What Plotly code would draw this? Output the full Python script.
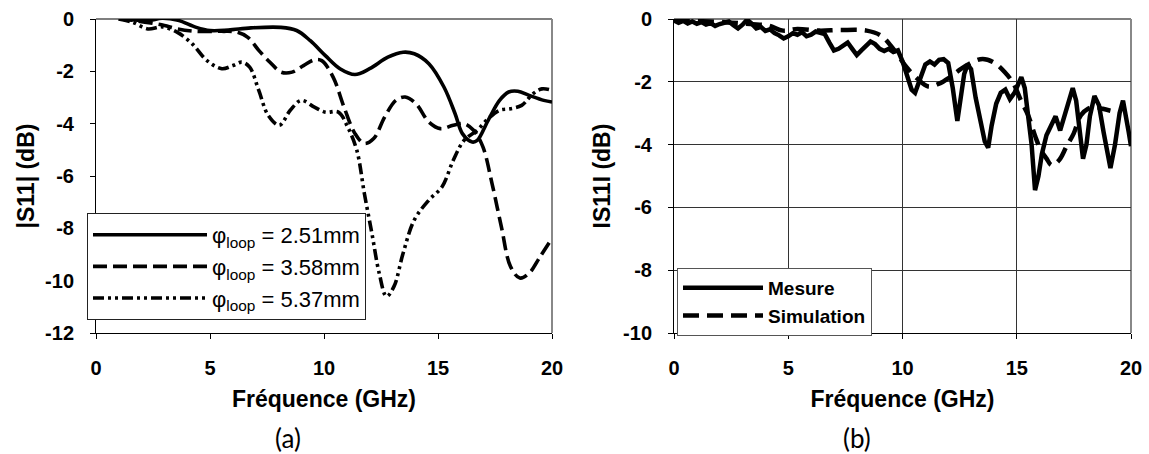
import plotly.graph_objects as go

# ---------------- data: panel (a) ----------------
a_solid_x = [1.0, 1.6, 2.3, 2.9, 3.6, 4.4, 5.0, 5.8, 6.8, 8.1, 8.8, 9.4, 10.06, 10.7, 11.36, 12.0, 12.8, 13.47,
             13.96, 14.6, 15.26, 15.75, 16.07, 16.5, 16.72, 17.2, 17.7, 18.1, 18.5, 19.0, 19.64, 20.0]
a_solid_y = [0.0, -0.03, -0.06, 0.03, -0.05, -0.32, -0.44, -0.42, -0.34, -0.32, -0.44, -0.83, -1.4, -1.9, -2.12,
             -1.9, -1.46, -1.27, -1.33, -1.71, -2.6, -3.62, -4.38, -4.7, -4.64, -3.87, -3.11, -2.79, -2.76, -2.92,
             -3.11, -3.17]

a_dash_x = [1.0, 1.6, 2.4, 3.0, 3.57, 4.38, 5.5, 6.17, 6.66, 7.14, 7.63, 8.12, 8.6, 9.1, 9.58, 9.9, 10.4, 10.88,
            11.36, 11.77, 12.18, 12.66, 13.15, 13.56, 14.04, 14.6, 15.1, 15.67, 16.15, 16.56, 16.97, 17.37, 17.78,
            18.18, 18.59, 19.0, 19.48, 20.0]
a_dash_y = [0.0, -0.05, -0.15, -0.25, -0.38, -0.47, -0.47, -0.5, -0.7, -1.2, -1.65, -2.03, -2.03, -1.78, -1.56,
            -1.59, -2.22, -3.37, -4.38, -4.76, -4.57, -3.75, -3.11, -2.98, -3.24, -3.94, -4.19, -4.06, -4.0, -4.25,
            -4.89, -6.29, -7.94, -9.46, -9.9, -9.71, -9.08, -8.38]

a_dd_x = [1.0, 1.62, 2.27, 2.9, 3.57, 4.22, 4.87, 5.52, 6.0, 6.4, 6.74, 7.14, 7.55, 8.04, 8.52, 9.0, 9.58, 10.06,
          10.63, 11.04, 11.44, 11.77, 12.1, 12.42, 12.74, 13.07, 13.47, 13.96, 14.6, 15.18, 15.67, 16.15, 16.72,
          17.2, 17.7, 18.18, 18.67, 19.16, 19.56, 20.0]
a_dd_y = [0.0, -0.13, -0.38, -0.3, -0.51, -0.95, -1.59, -1.9, -1.78, -1.65, -1.84, -2.73, -3.68, -4.06, -3.49,
          -3.11, -3.37, -3.56, -3.56, -4.13, -5.02, -6.67, -8.19, -9.71, -10.6, -10.22, -8.95, -7.68, -6.92, -6.41,
          -5.4, -4.63, -4.25, -3.81, -3.49, -3.43, -3.3, -2.86, -2.67, -2.73]

a_names = ["φ<sub>loop</sub> = 2.51mm", "φ<sub>loop</sub> = 3.58mm", "φ<sub>loop</sub> = 5.37mm"]

# ---------------- data: panel (b) ----------------
b_mes_x = [0.0, 0.2, 0.4, 0.6, 0.8, 1.0, 1.2, 1.4, 1.6, 1.8, 2.0, 2.2, 2.4, 2.6, 2.8, 3.0, 3.2, 3.4, 3.6, 3.8,
           4.0, 4.2, 4.4, 4.6, 4.8, 5.0, 5.2, 5.4, 5.6, 5.8, 6.0, 6.2, 6.4, 6.6, 6.8, 7.0, 7.2, 7.4, 7.6, 7.8,
           8.0, 8.2, 8.4, 8.6, 8.8, 9.0, 9.2, 9.4, 9.6, 9.8, 10.0, 10.2, 10.4, 10.55, 10.7, 10.85, 11.0, 11.2,
           11.4, 11.6, 11.8, 12.0, 12.2, 12.4, 12.55, 12.7, 12.85, 13.0, 13.2, 13.4, 13.6, 13.75, 13.9, 14.1,
           14.3, 14.5, 14.7, 14.9, 15.1, 15.2, 15.35, 15.5, 15.65, 15.8, 15.95, 16.1, 16.3, 16.5, 16.7, 16.9,
           17.1, 17.3, 17.45, 17.6, 17.75, 17.9, 18.05, 18.2, 18.4, 18.6, 18.8, 19.0, 19.1, 19.3, 19.5, 19.65,
           19.8, 19.9, 20.0]
b_mes_y = [-0.05, -0.12, -0.06, -0.14, -0.08, -0.15, -0.1, -0.18, -0.13, -0.22, -0.16, -0.12, -0.08, -0.2, -0.3,
           -0.18, -0.02, -0.15, -0.3, -0.25, -0.38, -0.33, -0.45, -0.52, -0.62, -0.55, -0.45, -0.5, -0.42, -0.55,
           -0.5, -0.4, -0.45, -0.48, -0.75, -1.0, -0.95, -0.85, -0.75, -0.95, -1.15, -1.0, -0.88, -0.72, -0.8,
           -0.95, -1.02, -0.95, -1.05, -1.0, -1.35, -1.85, -2.25, -2.35, -2.05, -1.7, -1.45, -1.35, -1.45, -1.3,
           -1.28, -1.4, -2.2, -3.25, -2.5, -1.75, -1.45, -1.6, -2.5, -3.3, -3.9, -4.1, -3.4, -2.7, -2.35, -2.25,
           -2.55, -2.35, -2.0, -1.85, -2.2, -3.0, -4.0, -5.45, -5.0, -4.3, -3.7, -3.4, -3.1, -3.55, -3.05, -2.5,
           -2.2, -2.6, -3.6, -4.45, -4.0, -3.1, -2.45, -2.75, -3.6, -4.5, -4.75, -4.0, -3.0, -2.6, -3.1, -3.6,
           -4.05]

b_sim_x = [0.0, 0.64, 2.23, 3.34, 4.13, 4.77, 5.4, 6.36, 7.31, 8.43, 9.06, 9.54, 9.86, 10.17, 10.65, 11.13,
           11.6, 12.08, 12.56, 13.04, 13.51, 13.99, 14.47, 14.86, 15.18, 15.5, 15.82, 16.06, 16.3, 16.53, 16.85,
           17.17, 17.49, 17.8, 18.12, 18.44, 18.76, 19.1]
b_sim_y = [0.0, -0.05, -0.1, -0.16, -0.21, -0.37, -0.32, -0.37, -0.35, -0.37, -0.53, -0.9, -1.22, -1.53, -1.9,
           -2.15, -2.06, -1.85, -1.59, -1.38, -1.27, -1.38, -1.69, -2.06, -2.59, -3.07, -3.76, -4.18, -4.44, -4.66,
           -4.5, -4.07, -3.65, -3.07, -2.86, -2.8, -2.86, -2.92]

b_names = ["Mesure", "Simulation"]

# ---------------- ticks / labels ----------------
x_tickvals = [0, 5, 10, 15, 20]
x_ticktext = ["0", "5", "10", "15", "20"]
a_y_tickvals = [0, -2, -4, -6, -8, -10, -12]
a_y_ticktext = ["0", "-2", "-4", "-6", "-8", "-10", "-12"]
b_y_tickvals = [0, -2, -4, -6, -8, -10]
b_y_ticktext = ["0", "-2", "-4", "-6", "-8", "-10"]
x_title = "Fréquence (GHz)"
a_y_title = "|S11| (dB)"
b_y_title = "IS11I (dB)"
panel_labels = ["(a)", "(b)"]

# ---------------- layout geometry ----------------
W, H = 1149, 454
def px_x(p): return p / W
def px_y(p): return 1 - p / H

FONT = "Liberation Sans"
tickfont = dict(family=FONT, size=20, color="black", weight="bold")
titlefont = dict(family=FONT, size=23, color="black", weight="bold")

fig = go.Figure()

fig.add_trace(go.Scatter(x=a_solid_x, y=a_solid_y, name=a_names[0], mode="lines", line_shape="spline",
                         line=dict(color="black", width=3.6), xaxis="x", yaxis="y", legend="legend"))
fig.add_trace(go.Scatter(x=a_dash_x, y=a_dash_y, name=a_names[1], mode="lines", line_shape="spline",
                         line=dict(color="black", width=3.6, dash="14px,6px"), xaxis="x", yaxis="y",
                         legend="legend"))
fig.add_trace(go.Scatter(x=a_dd_x, y=a_dd_y, name=a_names[2], mode="lines", line_shape="spline",
                         line=dict(color="black", width=3.6, dash="11px,4px,3px,4px,3px,4px"), xaxis="x",
                         yaxis="y", legend="legend"))

fig.add_trace(go.Scatter(x=b_mes_x, y=b_mes_y, name=b_names[0], mode="lines",
                         line=dict(color="black", width=4.5), xaxis="x2", yaxis="y2", legend="legend2"))
fig.add_trace(go.Scatter(x=b_sim_x, y=b_sim_y, name=b_names[1], mode="lines", line_shape="spline",
                         line=dict(color="black", width=4.5, dash="16px,8px"), xaxis="x2", yaxis="y2",
                         legend="legend2"))

axis_common = dict(showline=True, linecolor="black", linewidth=1, ticks="outside", ticklen=5,
                   tickcolor="black", tickwidth=1, tickfont=tickfont, zeroline=False, fixedrange=True,
                   automargin=False)

fig.update_layout(
    template="none",
    width=W, height=H, autosize=False,
    margin=dict(l=0, r=0, t=0, b=0),
    paper_bgcolor="white", plot_bgcolor="white",
    xaxis=dict(domain=[px_x(96), px_x(552)], range=[0, 20], anchor="y", tickvals=x_tickvals,
               ticktext=x_ticktext, showgrid=False, ticklabelstandoff=12,
               title=dict(text=x_title, font=titlefont, standoff=12), **axis_common),
    yaxis=dict(domain=[px_y(333), px_y(19)], range=[-12, 0], anchor="x", tickvals=a_y_tickvals,
               ticktext=a_y_ticktext, showgrid=False, ticklabelstandoff=12,
               title=dict(text=a_y_title, font=titlefont, standoff=4), **axis_common),
    xaxis2=dict(domain=[px_x(674), px_x(1131)], range=[0, 20], anchor="y2", tickvals=x_tickvals,
                ticktext=x_ticktext, showgrid=True, gridcolor="#333333", gridwidth=1, ticklabelstandoff=12,
                title=dict(text=x_title, font=titlefont, standoff=12), **axis_common),
    yaxis2=dict(domain=[px_y(333), px_y(19)], range=[-10, 0], anchor="x2", tickvals=b_y_tickvals,
                ticktext=b_y_ticktext, showgrid=True, gridcolor="#333333", gridwidth=1, ticklabelstandoff=12,
                title=dict(text=b_y_title, font=titlefont, standoff=6), **axis_common),
    legend=dict(x=px_x(87), y=px_y(213), xanchor="left", yanchor="top", bgcolor="white",
                bordercolor="#222222", borderwidth=1, itemwidth=114,
                font=dict(family=FONT, size=22, color="black"), tracegroupgap=0),
    legend2=dict(x=px_x(677), y=px_y(268), xanchor="left", yanchor="top", bgcolor="white",
                 bordercolor="#555555", borderwidth=1, itemwidth=80,
                 font=dict(family=FONT, size=19, color="black", weight="bold"), tracegroupgap=0),
    showlegend=True,
)

# plot-area borders (grey top/right frame, like the original charts)
for xr, yr in (("x domain", "y domain"), ("x2 domain", "y2 domain")):
    fig.add_shape(type="line", xref=xr, yref=yr, x0=0, x1=1, y0=1, y1=1, line=dict(color="#555555", width=1.5),
                  layer="below")
    fig.add_shape(type="line", xref=xr, yref=yr, x0=1, x1=1, y0=0, y1=1, line=dict(color="#888888", width=2),
                  layer="below")

fig.add_annotation(text=panel_labels[0], x=px_x(288), y=px_y(438), xref="paper", yref="paper",
                   xanchor="center", yanchor="middle", showarrow=False,
                   font=dict(family="Lato", size=26, color="black"))
fig.add_annotation(text=panel_labels[1], x=px_x(857), y=px_y(438), xref="paper", yref="paper",
                   xanchor="center", yanchor="middle", showarrow=False,
                   font=dict(family="Lato", size=26, color="black"))

fig.write_html("out.html", config={"displayModeBar": False},
               post_script="document.body.style.margin='0';")
